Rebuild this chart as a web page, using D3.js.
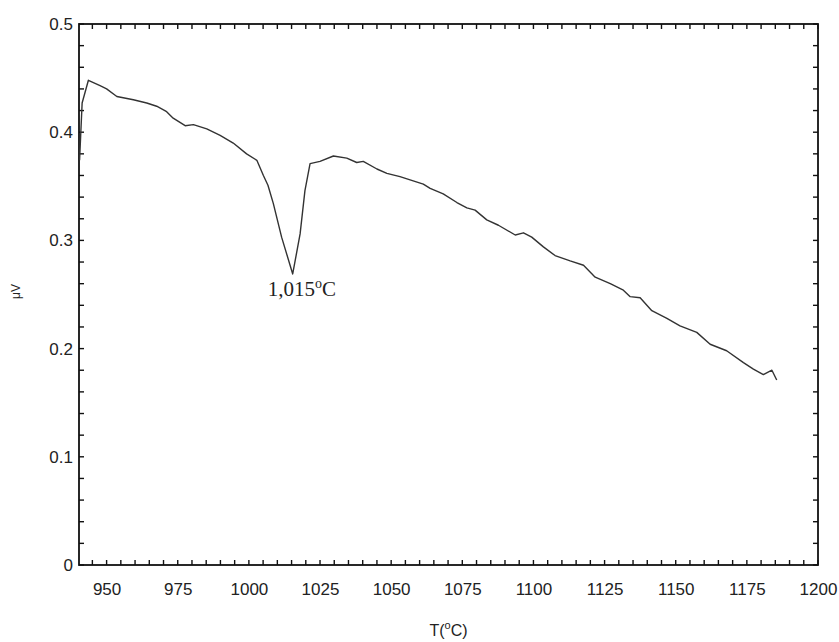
<!DOCTYPE html>
<html>
<head>
<meta charset="utf-8">
<script src="https://cdn.jsdelivr.net/npm/d3@7"></script>
<style>
  body { margin: 0; background: #fff; }
  .axis path.domain { display: none; }
</style>
</head>
<body>
<script>
// DTA trace
var temps = [940.5, 941.4, 943.6, 947.7, 950.0, 953.6, 959.4, 964.1, 967.6, 971.1,
  973.4, 977.6, 980.5, 985.2, 989.9, 994.5, 999.2, 1002.8, 1005.1, 1006.7,
  1008.6, 1011.5, 1015.4, 1018.0, 1019.7, 1021.5, 1025.0, 1029.7, 1034.4, 1037.9,
  1040.2, 1045.0, 1048.5, 1053.1, 1061.3, 1063.7, 1068.3, 1073.1, 1076.6, 1079.5,
  1083.6, 1087.7, 1093.6, 1096.5, 1099.4, 1103.5, 1107.6, 1112.9, 1117.6, 1121.7,
  1127.0, 1131.6, 1134.0, 1137.5, 1141.6, 1146.9, 1151.5, 1157.4, 1162.1, 1167.9,
  1173.8, 1177.3, 1180.8, 1183.8, 1185.5];
var volts = [0.374, 0.427, 0.448, 0.443, 0.440, 0.433, 0.430, 0.427, 0.424, 0.419,
  0.413, 0.406, 0.407, 0.403, 0.397, 0.390, 0.380, 0.374, 0.360, 0.351,
  0.334, 0.303, 0.269, 0.306, 0.346, 0.371, 0.373, 0.378, 0.376, 0.372,
  0.373, 0.366, 0.362, 0.359, 0.352, 0.348, 0.343, 0.335, 0.330, 0.328,
  0.319, 0.314, 0.305, 0.307, 0.303, 0.294, 0.286, 0.281, 0.277, 0.266,
  0.260, 0.254, 0.248, 0.247, 0.235, 0.228, 0.221, 0.215, 0.204, 0.198,
  0.187, 0.181, 0.176, 0.180, 0.171];

var xTicks = [950, 975, 1000, 1025, 1050, 1075, 1100, 1125, 1150, 1175, 1200];
var yTicks = [0, 0.1, 0.2, 0.3, 0.4, 0.5];
var peakT = 1015.4, peakV = 0.269;

var width = 839, height = 642;
var margin = { top: 24, right: 21, bottom: 77, left: 79 };

var x = d3.scaleLinear().domain([940.3, 1200]).range([margin.left, width - margin.right]);
var y = d3.scaleLinear().domain([0, 0.5]).range([height - margin.bottom, margin.top]);

var svg = d3.select("body").append("svg")
    .attr("width", width)
    .attr("height", height)
    .style("font-family", "'Liberation Sans', Arial, sans-serif");

// minor ticks every 5 degC and every 0.02 uV
var minorX = d3.range(945, 1200.1, 5);
var minorY = d3.range(0, 26).map(function (i) { return i * 0.02; });

var x0 = x.range()[0], x1 = x.range()[1], y0 = y.range()[0], y1 = y.range()[1];
var tk = 5;

// tick labels via the axis generators
svg.append("g")
    .attr("class", "axis")
    .attr("transform", "translate(0," + y0 + ")")
    .call(d3.axisBottom(x).tickValues(xTicks).tickSize(0).tickPadding(18).tickFormat(d3.format("d")))
    .selectAll("text").style("font-size", "17px").attr("fill", "#222");

svg.append("g")
    .attr("class", "axis")
    .attr("transform", "translate(" + x0 + ",0)")
    .call(d3.axisLeft(y).tickValues(yTicks).tickSize(0).tickPadding(6).tickFormat(d3.format("~g")))
    .selectAll("text").style("font-size", "17px").attr("fill", "#222");

// inward tick marks on all four sides
var ticks = svg.append("g").attr("stroke", "#111").attr("stroke-width", 1.4);
ticks.selectAll(".tb").data(minorX).enter().append("line")
    .attr("x1", x).attr("x2", x).attr("y1", y0).attr("y2", y0 - tk);
ticks.selectAll(".tt").data(minorX).enter().append("line")
    .attr("x1", x).attr("x2", x).attr("y1", y1).attr("y2", y1 + tk);
ticks.selectAll(".tl").data(minorY).enter().append("line")
    .attr("y1", y).attr("y2", y).attr("x1", x0).attr("x2", x0 + tk);
ticks.selectAll(".tr").data(minorY).enter().append("line")
    .attr("y1", y).attr("y2", y).attr("x1", x1).attr("x2", x1 - tk);

// frame
svg.append("rect")
    .attr("x", x0).attr("y", y1)
    .attr("width", x1 - x0).attr("height", y0 - y1)
    .attr("fill", "none")
    .attr("stroke", "#111")
    .attr("stroke-width", 1.8);

var pts = temps.map(function (t, i) { return [t, volts[i]]; });

svg.append("path")
    .datum(pts)
    .attr("fill", "none")
    .attr("stroke", "#333")
    .attr("stroke-width", 1.4)
    .attr("stroke-linejoin", "round")
    .attr("d", d3.line().x(function (d) { return x(d[0]); }).y(function (d) { return y(d[1]); }));

// peak label
var ann = svg.append("text")
    .attr("x", x(peakT) - 25)
    .attr("y", y(peakV) + 22)
    .style("font-family", "'Liberation Serif', 'Times New Roman', serif")
    .style("font-size", "21px")
    .attr("fill", "#222");
ann.append("tspan").text("1,015");
ann.append("tspan").attr("dy", -8).style("font-size", "14px").text("o");
ann.append("tspan").attr("dy", 8).text("C");

// axis titles
var xt = svg.append("text")
    .attr("x", (x0 + x1) / 2)
    .attr("y", 636)
    .attr("text-anchor", "middle")
    .style("font-size", "16px")
    .attr("fill", "#222");
xt.append("tspan").text("T(");
xt.append("tspan").attr("dy", -7).style("font-size", "11px").text("o");
xt.append("tspan").attr("dy", 7).text("C)");

svg.append("text")
    .attr("transform", "translate(20," + (y(0.25) - 3) + ") rotate(-90)")
    .attr("text-anchor", "middle")
    .style("font-size", "12px")
    .attr("fill", "#222")
    .text("μV");
</script>
</body>
</html>
